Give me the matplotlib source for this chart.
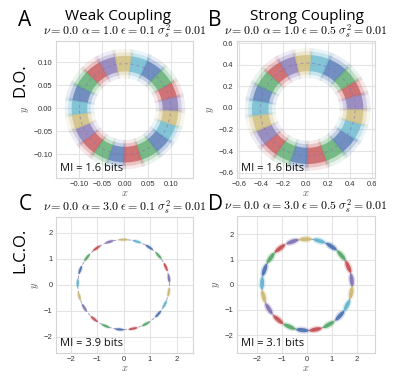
import numpy as np
import matplotlib
matplotlib.use("Agg")
import matplotlib.pyplot as plt
from matplotlib.patches import Circle, Ellipse, Wedge

plt.rcParams["mathtext.fontset"] = "cm"
plt.rcParams["font.family"] = ["Liberation Sans", "DejaVu Sans"]

palette = {"b": "#4C72B0", "g": "#55A868", "r": "#C44E52",
           "p": "#8172B2", "y": "#CCB974", "c": "#64B5CD"}

# colour of each phase cluster, clockwise from the top
cluster_colors = ["y", "c", "b", "g", "r", "p", "y", "c", "b", "g", "r",
                  "b", "g", "r", "p", "y", "c", "b", "g", "r", "p"]

# cluster centre angles (degrees)
phase_A = [92, 74, 56, 38, 21, 6, -10, -27, -44, -62, -82, -100, -117, -134,
           -150, -166, 178, 162, 145, 127, 110]
phase_B = [95, 78, 56, 38, 24, 8, -8, -24, -42, -60, -81, -100, -116, -133,
           -148, -165, 178, 162, 145, 128, 112]
phase_C = [90, 73, 56, 40, 23, 8, -10, -26, -41, -61, -78, -95, -113, -130,
           -149, -165, 178, 161, 143, 126, 108]
phase_D = [92, 74, 57, 40, 23, 6, -10, -27, -43, -61, -79, -96, -113, -130,
           -148, -165, 178, 161, 144, 127, 109]

ring_radius = {"A": 0.099, "B": 0.43, "C": 1.73, "D": 1.81}
ring_center = {"A": (0.0, -0.002), "B": (0.02, -0.015), "C": (0.0, 0.0), "D": (0.0, 0.0)}
# ring thickness of the noisy clusters (core, halo) in data units
ring_width = {"A": (0.034, 0.064), "B": (0.15, 0.28)}
# L.C.O. cluster size (tangential length, radial width) in data units
cluster_size = {"C": (0.32, 0.085), "D": (0.5, 0.16)}

mi_text = {"A": "MI = 1.6 bits", "B": "MI = 1.6 bits", "C": "MI = 3.9 bits", "D": "MI = 3.1 bits"}
titles = {
    "A": r"$\nu = 0.0\ \alpha = 1.0\ \epsilon = 0.1\ \sigma_s^2 = 0.01$",
    "B": r"$\nu = 0.0\ \alpha = 1.0\ \epsilon = 0.5\ \sigma_s^2 = 0.01$",
    "C": r"$\nu = 0.0\ \alpha = 3.0\ \epsilon = 0.1\ \sigma_s^2 = 0.01$",
    "D": r"$\nu = 0.0\ \alpha = 3.0\ \epsilon = 0.5\ \sigma_s^2 = 0.01$",
}
xticks = {"A": [-0.10, -0.05, 0.00, 0.05, 0.10],
          "B": [-0.6, -0.4, -0.2, 0.0, 0.2, 0.4, 0.6],
          "C": [-2, -1, 0, 1, 2], "D": [-2, -1, 0, 1, 2]}
yticks = {"A": [-0.10, -0.05, 0.00, 0.05, 0.10],
          "B": [-0.6, -0.4, -0.2, 0.0, 0.2, 0.4, 0.6],
          "C": [-2, -1, 0, 1, 2], "D": [-2, -1, 0, 1, 2]}
xlims = {"A": (-0.15, 0.148), "B": (-0.62, 0.63), "C": (-2.55, 2.62), "D": (-2.82, 2.74)}
ylims = {"A": (-0.152, 0.1465), "B": (-0.65, 0.62), "C": (-2.63, 2.6), "D": (-2.71, 2.73)}
tickfmt = {"A": "{:.2f}", "B": "{:.1f}", "C": "{:d}", "D": "{:d}"}
phases = {"A": phase_A, "B": phase_B, "C": phase_C, "D": phase_D}

W, H = 415, 389
fig = plt.figure(figsize=(W / 100, H / 100), dpi=100)

def px_axes(l, t, r, b):
    return fig.add_axes([l / W, 1 - b / H, (r - l) / W, (b - t) / H])

axes = {
    "A": px_axes(56, 41, 193, 178),
    "B": px_axes(237, 41, 375, 178),
    "C": px_axes(56, 217, 193, 353),
    "D": px_axes(237, 216, 375, 353),
}

for key, ax in axes.items():
    ax.set_facecolor("white")
    ax.set_xlim(*xlims[key])
    ax.set_ylim(*ylims[key])
    ax.set_xticks(xticks[key])
    ax.set_yticks(yticks[key])
    fmt = tickfmt[key]
    ax.set_xticklabels([fmt.format(v).replace("-", "\u2212") for v in xticks[key]])
    ax.set_yticklabels([fmt.format(v).replace("-", "\u2212") for v in yticks[key]])
    ax.tick_params(length=0, labelsize=5.5, labelcolor="#333333", pad=2.5)
    ax.grid(True, color="#e3e3e3", lw=0.8)
    ax.set_axisbelow(True)
    for s in ax.spines.values():
        s.set_color("#d5d5d5")
        s.set_linewidth(0.8)
    ax.set_xlabel("$x$", fontsize=7.5, color="#555555", labelpad=0)
    ax.set_ylabel("$y$", fontsize=7.5, color="#555555", labelpad=2)
    ax.set_title(titles[key], fontsize=8.6, pad=2)

    cx, cy = ring_center[key]
    r = ring_radius[key]
    ph = np.array(phases[key], dtype=float)
    cols = [palette[c] for c in cluster_colors]

    if key in ("A", "B"):
        # unwrap the clockwise angle sequence, then split the ring halfway between clusters
        ph_u = np.rad2deg(np.unwrap(np.deg2rad(ph)))
        nxt = np.append(ph_u[1:], ph_u[0] - 360)
        prv = np.insert(ph_u[:-1], 0, ph_u[-1] + 360)
        lo = (ph_u + nxt) / 2
        hi = (ph_u + prv) / 2
        wc, wh = ring_width[key]
        for t1, t2, col in zip(lo, hi, cols):
            ax.add_patch(Wedge((cx, cy), r + wh / 2, t1 - 2, t2 + 2, width=wh,
                               color=col, alpha=0.12, lw=0, zorder=2))
            ax.add_patch(Wedge((cx, cy), r + wc * 0.72, t1 - 1, t2 + 1, width=wc * 1.44,
                               color=col, alpha=0.25, lw=0, zorder=2))
            ax.add_patch(Wedge((cx, cy), r + wc / 2, t1, t2, width=wc,
                               color=col, alpha=0.68, lw=0, zorder=3))
        ax.add_patch(Circle((cx, cy), r, fill=False, ls=(0, (3, 3)), lw=0.7,
                            color=palette["p"], alpha=0.6, zorder=4))
    else:
        ax.add_patch(Circle((cx, cy), r, fill=False, ls=(0, (4, 2)), lw=0.6,
                            color=palette["p"], alpha=0.8, zorder=2))
        L, Wd = cluster_size[key]
        ang = np.deg2rad(ph)
        xs = cx + r * np.cos(ang)
        ys = cy + r * np.sin(ang)
        for x0, y0, a0, col in zip(xs, ys, ph, cols):
            ax.add_patch(Ellipse((x0, y0), L * 1.2, Wd * 1.8, angle=a0 + 90,
                                 color=col, alpha=0.25, lw=0, zorder=3))
            ax.add_patch(Ellipse((x0, y0), L, Wd, angle=a0 + 90,
                                 color=col, alpha=0.9, lw=0, zorder=4))

    ax.text(0.03, 0.03, mi_text[key], transform=ax.transAxes, fontsize=8,
            family="Open Sans", ha="left", va="bottom", color="#111111", zorder=6)

def ftext(x, y, s, **kw):
    fig.text(x / W, 1 - y / H, s, **kw)

big = dict(family="Open Sans", fontsize=15, ha="center", va="center")
ftext(25, 21, "A", **big)
ftext(215, 21, "B", **big)
ftext(25, 204, "C", **big)
ftext(215, 205, "D", **big)
ftext(118, 17, "Weak Coupling", family="Open Sans", fontsize=11, ha="center", va="center")
ftext(307, 17, "Strong Coupling", family="Open Sans", fontsize=11, ha="center", va="center")
ftext(20, 80, "D.O.", family="Open Sans", fontsize=12, ha="center", va="center", rotation=90)
ftext(20, 250, "L.C.O.", family="Open Sans", fontsize=12, ha="center", va="center", rotation=90)

fig.savefig("out.png", dpi=100, facecolor="white")
